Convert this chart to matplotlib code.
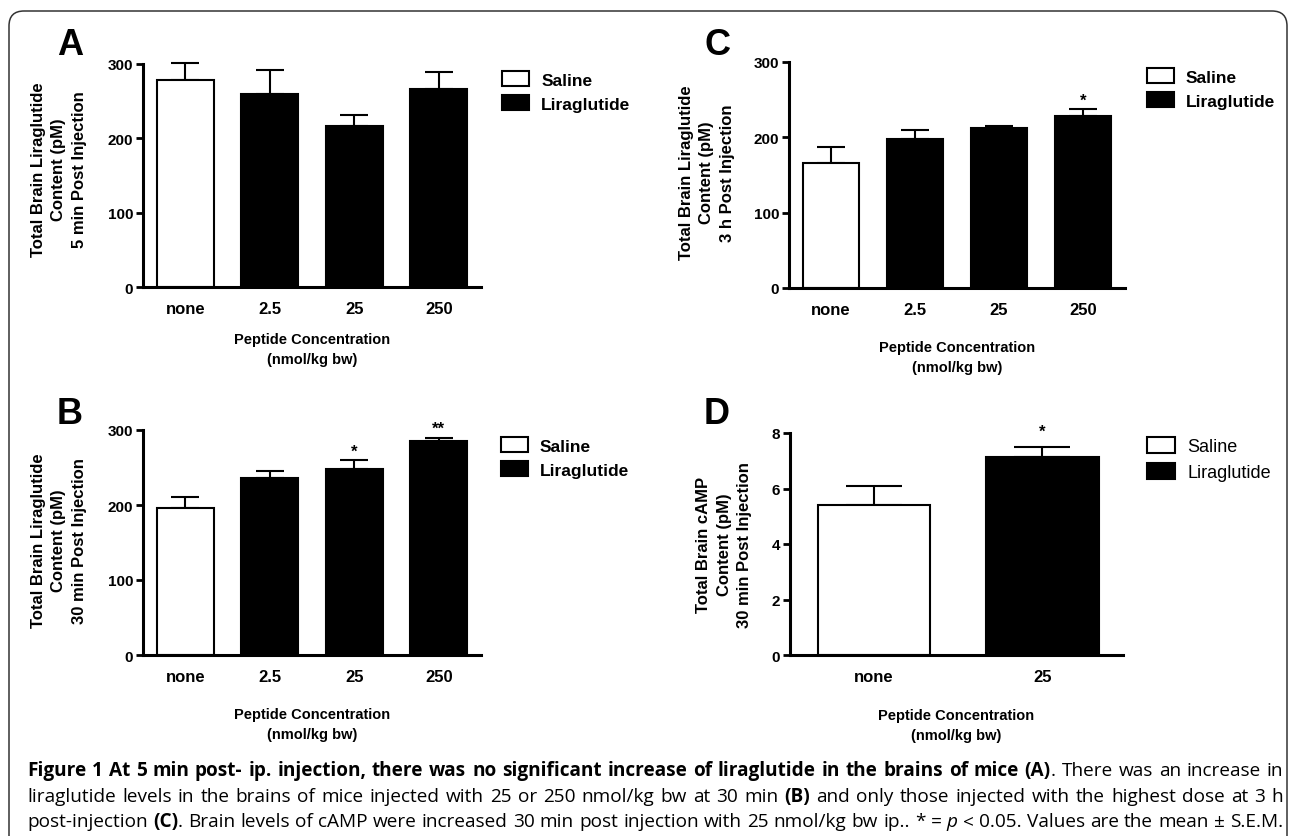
import matplotlib
matplotlib.use('Agg')
import matplotlib.pyplot as plt
from matplotlib import font_manager
from matplotlib.patches import FancyBboxPatch
import numpy as np

plt.rcParams['font.family'] = ['Liberation Sans', 'DejaVu Sans']

W, H = 1290, 837

# data
doses = ['none', '2.5', '25', '250']
a_mean = [279, 260, 217, 267]
a_sem = [22, 32, 14, 22]
a_stars = ['', '', '', '']

c_mean = [166, 198, 213, 228]
c_sem = [21, 12, 1.5, 9.5]
c_stars = ['', '', '', '*']

b_mean = [196, 236, 248, 285]
b_sem = [15, 10, 12, 5]
b_stars = ['', '', '*', '**']

d_doses = ['none', '25']
d_mean = [5.41, 7.15]
d_sem = [0.67, 0.35]
d_stars = ['', '*']

legend_labels = ['Saline', 'Liraglutide']

fig = plt.figure(figsize=(W / 100, H / 100), dpi=100)

names = {f.name for f in font_manager.fontManager.ttflist}
if 'Liberation Sans Narrow' in names:
    xlab_font = dict(family='Liberation Sans Narrow', weight='bold', size=12.5)
else:
    xlab_font = dict(family='Liberation Sans', weight='bold', size=10.5)


def fx(px):
    return px / W


def fy(py):
    return 1 - py / H


def panel(box, labels, means, sems, stars, ymax, yticks, ylabel, letter,
          letter_xy, ylabel_xy, xlabel_y, legend_xy, legend_prop, capsize,
          xmax=None, star_off=1):
    l, t, r, b = box
    ax = fig.add_axes([fx(l), fy(b), (r - l) / W, (b - t) / H])
    x = np.arange(len(labels))
    colors = ['white'] + ['black'] * (len(labels) - 1)
    bars = ax.bar(x, means, width=0.67, color=colors, edgecolor='black',
                  linewidth=1.5, zorder=2)
    eb = ax.errorbar(x, means, yerr=[np.zeros(len(x)), sems], fmt='none', ecolor='black',
                     elinewidth=1.5, capsize=capsize, capthick=1.5, zorder=1)
    for art in eb.lines[1] + eb.lines[2]:
        art.set_clip_on(False)
    for xi, m, s, st in zip(x, means, sems, stars):
        if st:
            ax.annotate(st, xy=(xi, m + s), xytext=(0, star_off), textcoords='offset points',
                        ha='center', va='bottom', fontsize=12, fontweight='bold')
    ax.set_xlim(-0.5, xmax if xmax is not None else len(labels) - 0.5)
    ax.set_ylim(0, ymax)
    ax.set_yticks(yticks)
    ax.set_xticks(x)
    ax.set_xticklabels(labels)
    for s in ['top', 'right']:
        ax.spines[s].set_visible(False)
    for s in ['left', 'bottom']:
        ax.spines[s].set_linewidth(2.2)
    ax.tick_params(axis='y', length=5, width=2, pad=2, labelsize=11)
    ax.tick_params(axis='x', length=0, pad=10, labelsize=12)
    for lab in ax.get_xticklabels() + ax.get_yticklabels():
        lab.set_fontweight('bold')
    ax.legend([bars[0], bars[1]], legend_labels, loc='upper left',
              bbox_to_anchor=(fx(legend_xy[0]), fy(legend_xy[1])),
              bbox_transform=fig.transFigure, frameon=False, borderpad=0,
              borderaxespad=0, handlelength=1.55, handleheight=0.98,
              handletextpad=0.7, labelspacing=0.42, prop=legend_prop)
    fig.text(fx(letter_xy[0]), fy(letter_xy[1]), letter, fontsize=26,
             fontweight='bold', ha='center', va='baseline')
    fig.text(fx(ylabel_xy[0]), fy(ylabel_xy[1]), ylabel, rotation=90, ha='center',
             va='center', multialignment='center', fontsize=12, fontweight='bold',
             linespacing=1.45)
    fig.text(fx((l + r) / 2), fy(xlabel_y), 'Peptide Concentration\n(nmol/kg bw)',
             ha='center', va='center', multialignment='center', linespacing=1.55,
             **xlab_font)
    return ax


bold_leg = dict(weight='bold', size=12.5)
panel((143, 65, 481, 288), doses, a_mean, a_sem, a_stars, 300, [0, 100, 200, 300],
      'Total Brain Liraglutide\nContent (pM)\n5 min Post Injection', 'A',
      (70, 55), (59, 170), 350, (502, 72), bold_leg, 10)
panel((789, 63, 1125, 289), doses, c_mean, c_sem, c_stars, 300, [0, 100, 200, 300],
      'Total Brain Liraglutide\nContent (pM)\n3 h Post Injection', 'C',
      (718, 55), (707, 173), 358, (1147, 69), bold_leg, 10)
panel((143, 431, 481, 656), doses, b_mean, b_sem, b_stars, 300, [0, 100, 200, 300],
      'Total Brain Liraglutide\nContent (pM)\n30 min Post Injection', 'B',
      (70, 424), (59, 541), 725, (501, 438), bold_leg, 10)
panel((790, 434, 1123, 656), d_doses, d_mean, d_sem, d_stars, 8, [0, 2, 4, 6, 8],
      'Total Brain cAMP\nContent (pM)\n30 min Post Injection', 'D',
      (717, 424), (724, 545), 726, (1147, 438), dict(size=13), 20,
      xmax=1.48, star_off=6)

# rounded frame round the figure
frame = FancyBboxPatch((9 / 100, -0.3), (1287 - 9) / 100, (825 / 100) + 0.3,
                       boxstyle='round,pad=0,rounding_size=0.15',
                       transform=fig.dpi_scale_trans, facecolor='none',
                       edgecolor='#333333', linewidth=1.1)
fig.patches.append(frame)

# caption, justified
cap_lines = [
    [("Figure 1 At 5 min post- ip. injection, there was no significant increase of "
      "liraglutide in the brains of mice (A)", 'bold'),
     (". There was an increase in", 'normal')],
    [("liraglutide levels in the brains of mice injected with 25 or 250 nmol/kg bw at 30 min ", 'normal'),
     ("(B)", 'bold'),
     (" and only those injected with the highest dose at 3 h", 'normal')],
    [("post-injection ", 'normal'), ("(C)", 'bold'),
     (". Brain levels of cAMP were increased 30 min post injection with 25 nmol/kg bw ip.. * = ", 'normal'),
     ("p", 'italic'), (" < 0.05. Values are the mean \u00b1 S.E.M.", 'normal')],
]
cap_base = [776, 802, 827]
styles = {'bold': dict(weight='bold'), 'normal': {}, 'italic': dict(style='italic')}
cap_family = ['Open Sans', 'DejaVu Sans']
renderer = fig.canvas.get_renderer()
x0, x1 = 27, 1283


def split_words(segs):
    words = [[]]
    for text, st in segs:
        parts = text.split(' ')
        for i, p in enumerate(parts):
            if i > 0:
                words.append([])
            if p:
                words[-1].append((p, st))
    return [w for w in words if w]


def measure(text, st, size):
    t = fig.text(0, 0, text, family=cap_family, fontsize=size, **styles[st])
    wd = t.get_window_extent(renderer).width
    t.remove()
    return wd


def natural_width(segs, size):
    words = split_words(segs)
    space = measure('a a', 'normal', size) - measure('aa', 'normal', size)
    return sum(measure(p, st, size) for w in words for p, st in w) + space * (len(words) - 1)


# font size so that the widest line fills the text block with plain spacing
cap_size = 12 * (x1 - x0) / max(natural_width(s, 12) for s in cap_lines) * 0.99

for segs, yb in zip(cap_lines, cap_base):
    words = split_words(segs)
    items = []
    total = 0
    for w in words:
        row = []
        for text, st in w:
            t = fig.text(0, 0, text, family=cap_family, fontsize=cap_size,
                         ha='left', va='baseline', **styles[st])
            wd = t.get_window_extent(renderer).width
            row.append((t, wd))
            total += wd
        items.append(row)
    gap = (x1 - x0 - total) / (len(items) - 1)
    x = x0
    for row in items:
        for t, wd in row:
            t.set_position((fx(x), fy(yb)))
            x += wd
        x += gap

fig.savefig('out.png', dpi=100)
